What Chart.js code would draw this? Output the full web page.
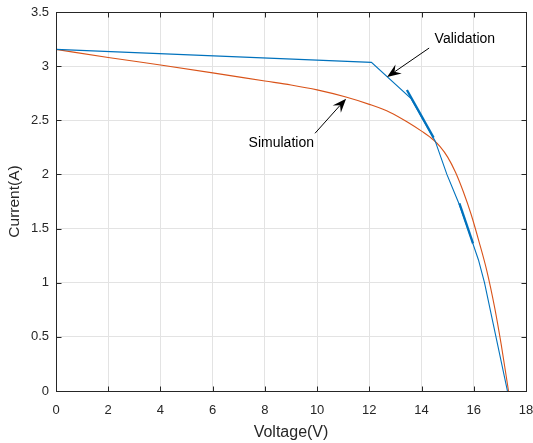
<!DOCTYPE html>
<html>
<head>
<meta charset="utf-8">
<title>I-V curve</title>
<script src="https://cdn.jsdelivr.net/npm/chart.js@4/dist/chart.umd.min.js"></script>
<style>
  html, body { margin: 0; padding: 0; background: #fff; }
  canvas { display: block; }
</style>
</head>
<body>
<canvas id="iv-chart" width="533" height="443"></canvas>
<script>
// Simulation curve (orange)
const simVoltage = [0, 2, 4, 6, 8, 9, 10, 11.07, 12, 12.8, 13.44, 14, 14.46, 14.71, 15.0, 15.3, 15.6, 15.9, 16.2, 16.5, 16.8, 17.05, 17.33];
const simCurrent = [3.155, 3.08, 3.01, 2.938, 2.863, 2.826, 2.781, 2.717, 2.647, 2.573, 2.487, 2.40, 2.318, 2.256, 2.16, 2.02, 1.84, 1.63, 1.38, 1.11, 0.77, 0.43, 0];

// Validation measurement (blue)
const valVoltage = [0, 12.08, 13.6, 14.52, 14.97, 15.45, 15.77, 16.18, 16.41, 16.85, 17.29];
const valCurrent = [3.155, 3.035, 2.70, 2.31, 2.0, 1.72, 1.5, 1.21, 1.0, 0.5, 0];

// dense/noisy stretches of the measurement, drawn heavier
const valDense1Voltage = [13.44, 14.46];
const valDense1Current = [2.78, 2.34];
const valDense2Voltage = [15.45, 15.97];
const valDense2Current = [1.733, 1.364];

const xTicks = [0, 2, 4, 6, 8, 10, 12, 14, 16, 18];
const yTicks = [0, 0.5, 1, 1.5, 2, 2.5, 3, 3.5];

// annotation arrows: [text, textV, textI, align, tailV, tailI, tipV, tipI]
const notes = [
    ['Validation', 14.5, 3.25, 'left', 14.29, 3.167, 12.68, 2.90],
    ['Simulation', 9.88, 2.29, 'right', 9.92, 2.38, 11.11, 2.70]
];

const BLUE = '#0072BD';
const ORANGE = '#D95319';
const AXIS = '#262626';
const FONT = 'Arial, "Liberation Sans", Helvetica, sans-serif';

function toPoints(xs, ys) {
    return xs.map((x, i) => ({ x: x, y: ys[i] }));
}

function drawArrow(ctx, x1, y1, x2, y2) {
    const ang = Math.atan2(y2 - y1, x2 - x1);
    const len = 14;
    const half = 5.5;
    const notch = 5;
    const cos = Math.cos(ang), sin = Math.sin(ang);
    const bx = x2 - len * cos, by = y2 - len * sin;
    const nx = x2 - (len - notch) * cos, ny = y2 - (len - notch) * sin;

    ctx.strokeStyle = '#000';
    ctx.lineWidth = 1;
    ctx.beginPath();
    ctx.moveTo(x1, y1);
    ctx.lineTo(nx, ny);
    ctx.stroke();

    ctx.fillStyle = '#000';
    ctx.beginPath();
    ctx.moveTo(x2, y2);
    ctx.lineTo(bx - half * sin, by + half * cos);
    ctx.lineTo(nx, ny);
    ctx.lineTo(bx + half * sin, by - half * cos);
    ctx.closePath();
    ctx.fill();
}

const boxAndNotes = {
    id: 'boxAndNotes',
    afterDraw(chart) {
        const ctx = chart.ctx;
        const area = chart.chartArea;
        const xs = chart.scales.x;
        const ys = chart.scales.y;
        const l = Math.round(area.left) + 0.5;
        const r = Math.round(area.right) + 0.5;
        const t = Math.round(area.top) + 0.5;
        const b = Math.round(area.bottom) + 0.5;
        const tickLen = 5;

        ctx.save();
        ctx.strokeStyle = AXIS;
        ctx.lineWidth = 1;
        ctx.strokeRect(l, t, r - l, b - t);

        ctx.beginPath();
        xTicks.forEach(v => {
            const px = Math.round(xs.getPixelForValue(v)) + 0.5;
            ctx.moveTo(px, b); ctx.lineTo(px, b - tickLen);
            ctx.moveTo(px, t); ctx.lineTo(px, t + tickLen);
        });
        yTicks.forEach(v => {
            const py = Math.round(ys.getPixelForValue(v)) + 0.5;
            ctx.moveTo(l, py); ctx.lineTo(l + tickLen, py);
            ctx.moveTo(r, py); ctx.lineTo(r - tickLen, py);
        });
        ctx.stroke();

        notes.forEach(n => {
            drawArrow(ctx,
                xs.getPixelForValue(n[4]), ys.getPixelForValue(n[5]),
                xs.getPixelForValue(n[6]), ys.getPixelForValue(n[7]));
            ctx.fillStyle = '#000';
            ctx.font = '14px ' + FONT;
            ctx.textAlign = n[3];
            ctx.textBaseline = 'middle';
            ctx.fillText(n[0], xs.getPixelForValue(n[1]), ys.getPixelForValue(n[2]));
        });
        ctx.restore();
    }
};

document.addEventListener('DOMContentLoaded', () => {
    const canvas = document.getElementById('iv-chart');

    new Chart(canvas, {
        type: 'scatter',
        data: {
            datasets: [
                {
                    label: 'Validation',
                    data: toPoints(valVoltage, valCurrent),
                    showLine: true,
                    borderColor: BLUE,
                    borderWidth: 1.1,
                    pointRadius: 0,
                    tension: 0
                },
                {
                    label: 'Validation dense 1',
                    data: toPoints(valDense1Voltage, valDense1Current),
                    showLine: true,
                    borderColor: BLUE,
                    borderWidth: 2.3,
                    pointRadius: 0
                },
                {
                    label: 'Validation dense 2',
                    data: toPoints(valDense2Voltage, valDense2Current),
                    showLine: true,
                    borderColor: BLUE,
                    borderWidth: 2.3,
                    pointRadius: 0
                },
                {
                    label: 'Simulation',
                    data: toPoints(simVoltage, simCurrent),
                    showLine: true,
                    borderColor: ORANGE,
                    borderWidth: 1.1,
                    pointRadius: 0,
                    cubicInterpolationMode: 'monotone'
                }
            ]
        },
        options: {
            responsive: false,
            animation: false,
            events: [],
            layout: { padding: { top: 12, right: 7, left: 0, bottom: 0 } },
            plugins: {
                legend: { display: false },
                tooltip: { enabled: false }
            },
            scales: {
                x: {
                    type: 'linear',
                    min: 0,
                    max: 18,
                    afterFit: scale => {
                        scale.height = 52;
                        scale.paddingLeft = 0;
                        scale.paddingRight = 0;
                    },
                    afterBuildTicks: scale => { scale.ticks = xTicks.map(v => ({ value: v })); },
                    grid: { color: '#e3e3e3', lineWidth: 1, drawTicks: false },
                    border: { display: false },
                    ticks: {
                        color: AXIS,
                        padding: 12,
                        font: { family: FONT, size: 13 },
                        callback: v => String(v)
                    },
                    title: {
                        display: true,
                        text: 'Voltage(V)',
                        color: AXIS,
                        font: { family: FONT, size: 16 },
                        padding: { top: 0, bottom: 1 }
                    }
                },
                y: {
                    type: 'linear',
                    min: 0,
                    max: 3.5,
                    afterFit: scale => {
                        scale.width = 56;
                        scale.paddingTop = 0;
                        scale.paddingBottom = 0;
                    },
                    afterBuildTicks: scale => { scale.ticks = yTicks.map(v => ({ value: v })); },
                    grid: { color: '#e3e3e3', lineWidth: 1, drawTicks: false },
                    border: { display: false },
                    ticks: {
                        color: AXIS,
                        padding: 7,
                        font: { family: FONT, size: 13 },
                        callback: v => String(v)
                    },
                    title: {
                        display: true,
                        text: 'Current(A)',
                        color: AXIS,
                        font: { family: FONT, size: 15.5 },
                        padding: { top: 5, bottom: 0 }
                    }
                }
            }
        },
        plugins: [boxAndNotes]
    });
});
</script>
</body>
</html>
